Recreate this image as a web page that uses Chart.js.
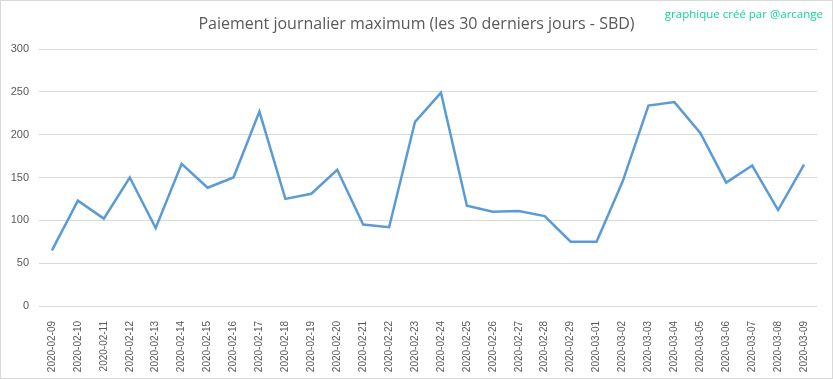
<!DOCTYPE html>
<html>
<head>
<meta charset="utf-8">
<script src="https://cdn.jsdelivr.net/npm/chart.js@4/dist/chart.umd.min.js"></script>
<style>
  html, body { margin: 0; padding: 0; background: #fff; }
  #frame {
    position: relative;
    width: 833px; height: 379px;
    box-sizing: border-box;
    border: 1px solid #d9d9d9;
  }
  #canvas { display: block; }
  #title {
    position: absolute; left: 0; right: 0; top: 11px;
    text-align: center;
    font: 16px/22px "Open Sans", sans-serif;
    color: #595959;
  }
  #credit {
    position: absolute; right: 9px; top: 5px;
    font: 11.5px "Open Sans", sans-serif;
    color: #12d29e;
  }
</style>
</head>
<body>
<div id="frame">
  <canvas id="canvas" width="831" height="377"></canvas>
  <div id="title">Paiement journalier maximum (les 30 derniers jours - SBD)</div>
  <div id="credit">graphique créé par @arcange</div>
</div>
<script>
var labels = [
    '2020-02-09', '2020-02-10', '2020-02-11', '2020-02-12', '2020-02-13',
    '2020-02-14', '2020-02-15', '2020-02-16', '2020-02-17', '2020-02-18',
    '2020-02-19', '2020-02-20', '2020-02-21', '2020-02-22', '2020-02-23',
    '2020-02-24', '2020-02-25', '2020-02-26', '2020-02-27', '2020-02-28',
    '2020-02-29', '2020-03-01', '2020-03-02', '2020-03-03', '2020-03-04',
    '2020-03-05', '2020-03-06', '2020-03-07', '2020-03-08', '2020-03-09'
];
var maxPayout = [
    65, 123, 102, 150, 91, 166, 138, 150, 227, 125,
    131, 159, 95, 92, 215, 249, 117, 110, 111, 105,
    75, 75, 145, 234, 238, 202, 144, 164, 112, 165
];
var yMin = 0, yMax = 300, yStep = 50;

var textColor = '#595959';
var gridColor = '#d9d9d9';

var config = {type: 'line'};
config.data = {
    labels: labels,
    datasets: [{
        label: 'SBD',
        data: maxPayout,
        borderColor: '#5b9bd5',
        backgroundColor: '#5b9bd5',
        borderWidth: 2.5,
        pointRadius: 0,
        tension: 0,
        fill: false
    }]
};
config.options = {
    responsive: false,
    animation: false,
    layout: {padding: {left: 0, right: 15, bottom: 0, top: 48}},
    plugins: {
        legend: {display: false},
        tooltip: {enabled: false},
        title: {display: false}
    },
    scales: {
        x: {
            offset: true,
            grid: {display: false},
            border: {display: false},
            ticks: {
                color: textColor,
                font: {family: 'Liberation Sans', size: 10},
                minRotation: 90,
                maxRotation: 90,
                autoSkip: false,
                padding: 7
            },
            afterFit: function (scale) { scale.height = 72; }
        },
        y: {
            min: yMin,
            max: yMax,
            grid: {color: gridColor, lineWidth: 1, drawTicks: false},
            border: {display: false},
            ticks: {
                stepSize: yStep,
                color: textColor,
                font: {family: 'Liberation Sans', size: 11},
                padding: 10
            },
            afterFit: function (scale) { scale.width = 38; }
        }
    }
};

var chart = new Chart(document.getElementById('canvas'), config);
</script>
</body>
</html>
